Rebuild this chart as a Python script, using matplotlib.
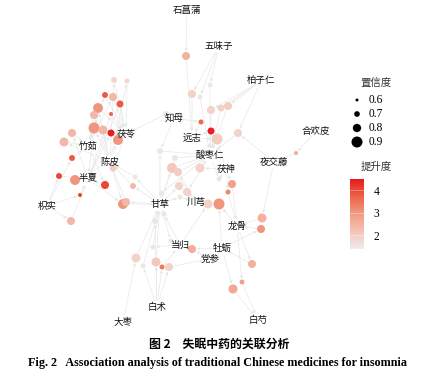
import numpy as np
import matplotlib
matplotlib.use('Agg')
import matplotlib.pyplot as plt
from matplotlib.colors import LinearSegmentedColormap
from matplotlib.patches import FancyArrowPatch

plt.rcParams['font.family'] = ['Noto Sans CJK SC', 'DejaVu Sans']

# Items (drug names) and where their labels sit
item_names = ['石菖蒲', '五味子', '柏子仁', '知母', '茯苓', '远志', '竹茹', '酸枣仁', '合欢皮',
              '夜交藤', '陈皮', '茯神', '半夏', '枳实', '甘草', '川芎', '龙骨', '当归',
              '牡蛎', '党参', '白术', '大枣', '白芍']
item_x = [187, 219, 261, 174, 126, 192, 88, 210, 316, 274, 110, 226, 88, 47, 160, 196, 237, 180, 222, 210, 157, 123, 258]
item_y = [10, 46, 81, 118, 134, 138, 146, 155, 131, 162, 162, 169, 179, 206, 204, 202, 226, 245, 248, 259, 307, 322, 320]

# Rules: layout position, confidence (size), lift (colour), linked items (last one = rhs)
rule_x = [186, 210, 192, 200, 211, 221, 228, 238, 201, 211, 217, 166, 160, 175, 172, 178, 200,
          179, 187, 161, 180, 232, 228, 219, 208, 219, 123, 126, 133, 135, 113, 105, 113, 114,
          127, 120, 98, 94, 111, 94, 103, 111, 118, 72, 64, 72, 59, 75, 80, 105, 71, 164, 155,
          153, 171, 192, 136, 143, 156, 162, 169, 262, 261, 252, 233, 242, 296]
rule_y = [56, 85, 94, 97, 110, 108, 106, 133, 122, 131, 139, 114, 151, 158, 168, 172, 168,
          186, 192, 193, 197, 184, 192, 179, 204, 204, 204, 202, 186, 177, 168, 95, 97, 80,
          81, 104, 108, 115, 114, 128, 130, 133, 140, 133, 142, 158, 176, 180, 195, 185, 221, 214, 221,
          247, 241, 249, 258, 266, 262, 267, 267, 218, 229, 264, 289, 282, 153]
rule_conf = [0.79, 0.675, 0.79, 0.675, 0.79, 0.75, 0.79, 0.79, 0.675, 0.75, 0.90, 0.71, 0.71, 0.71, 0.86, 0.79, 0.825,
             0.79, 0.79, 0.675, 0.675, 0.79, 0.675, 0.675, 0.825, 0.90, 0.86, 0.79, 0.71, 0.675, 0.75, 0.71, 0.79, 0.71,
             0.675, 0.75, 0.86, 0.79, 0.64, 0.90, 0.825, 0.75, 0.86, 0.79, 0.825, 0.71, 0.71, 0.86, 0.64, 0.79, 0.79, 0.675, 0.71,
             0.675, 0.675, 0.79, 0.825, 0.675, 0.825, 0.675, 0.79, 0.825, 0.79, 0.79, 0.825, 0.675, 0.64]
rule_lift = [2.5, 1.5, 1.9, 1.5, 1.9, 1.9, 2.0, 1.9, 3.6, 4.4, 2.0, 1.5, 1.5, 1.5, 2.1, 2.0, 1.9,
             1.9, 1.9, 1.5, 1.5, 2.8, 3.2, 1.5, 1.9, 3.0, 3.0, 2.4, 2.4, 1.5, 2.0, 3.8, 2.4, 1.9,
             1.8, 3.8, 3.0, 2.4, 3.6, 3.0, 2.4, 4.4, 3.0, 2.4, 2.4, 3.8, 4.0, 3.0, 4.0, 4.0, 2.4, 1.5, 1.5,
             1.5, 1.5, 2.6, 1.9, 1.5, 2.1, 3.4, 1.9, 2.5, 3.0, 2.5, 2.7, 2.8, 2.6]
rule_items = [
    '石菖蒲,远志', '五味子,酸枣仁', '五味子,远志', '五味子,酸枣仁', '柏子仁,酸枣仁', '柏子仁,酸枣仁',
    '柏子仁,酸枣仁', '柏子仁,夜交藤,酸枣仁', '知母,远志', '远志,酸枣仁', '远志,茯神,酸枣仁',
    '知母,茯苓', '知母,甘草,酸枣仁', '甘草,酸枣仁', '甘草,川芎,酸枣仁', '川芎,酸枣仁', '茯神,酸枣仁',
    '甘草,川芎', '酸枣仁,川芎', '酸枣仁,甘草', '甘草,川芎', '茯神,龙骨', '茯神,龙骨', '酸枣仁,茯神',
    '当归,川芎', '龙骨,牡蛎,川芎', '半夏,陈皮,甘草', '甘草,陈皮', '甘草,陈皮', '甘草,陈皮', '茯苓,陈皮',
    '竹茹,茯苓', '竹茹,茯苓', '陈皮,茯苓', '陈皮,茯苓', '半夏,茯苓', '竹茹,陈皮,茯苓', '陈皮,竹茹',
    '半夏,茯苓', '竹茹,陈皮,半夏', '陈皮,茯苓', '半夏,茯苓', '陈皮,茯苓', '半夏,竹茹', '陈皮,竹茹',
    '枳实,竹茹', '枳实,半夏', '陈皮,半夏', '枳实,半夏', '竹茹,半夏', '枳实,半夏', '当归,甘草', '白术,甘草',
    '当归,甘草', '甘草,当归', '党参,牡蛎,当归', '大枣,甘草', '白术,甘草', '白术,甘草', '白术,当归',
    '白术,党参', '夜交藤,龙骨', '牡蛎,龙骨', '龙骨,牡蛎', '牡蛎,白芍', '龙骨,白芍', '合欢皮,夜交藤']

lift_min, lift_max = 1.38, 4.5
legend_conf = [0.6, 0.7, 0.8, 0.9]
cbar_ticks = [2, 3, 4]

cmap = LinearSegmentedColormap.from_list('lift', ['#eeeceb', '#f5c4b6', '#f09a82', '#eb6248', '#e8141a'])


def radius_px(c):
    return 1.5 + (np.asarray(c) - 0.6) / 0.3 * 4.0


def marker_area(c):
    return (2 * radius_px(c) * 0.72) ** 2


fig = plt.figure(figsize=(4.29, 3.80), dpi=100)
ax = fig.add_axes([0, 0, 1, 1])
ax.set_xlim(0, 429)
ax.set_ylim(380, 0)
ax.axis('off')

pos = {n: (x, y) for n, x, y in zip(item_names, item_x, item_y)}
edge_col = '#e8e8e8'

# edges: lhs -> rule -> rhs
for rx, ry, c, its in zip(rule_x, rule_y, rule_conf, rule_items):
    names = its.split(',')
    rp = radius_px(c) * 0.72
    for n in names[:-1]:
        a = FancyArrowPatch(pos[n], (rx, ry), arrowstyle='-|>', mutation_scale=4,
                            color=edge_col, lw=0.5, shrinkA=5, shrinkB=rp + 0.5, zorder=1)
        ax.add_patch(a)
    a = FancyArrowPatch((rx, ry), pos[names[-1]], arrowstyle='-|>', mutation_scale=4,
                        color=edge_col, lw=0.5, shrinkA=rp + 0.5, shrinkB=5, zorder=1)
    ax.add_patch(a)

# rule nodes
ax.scatter(rule_x, rule_y, s=marker_area(rule_conf), c=rule_lift, cmap=cmap,
           vmin=lift_min, vmax=lift_max, linewidths=0, zorder=3)

# item labels
for n, x, y in zip(item_names, item_x, item_y):
    ax.text(x, y, n, fontsize=6.8, ha='center', va='center', color='#111111', zorder=4)

# size legend
ax.text(376, 83, '置信度', fontsize=7.5, ha='center', va='center', color='#333333')
leg_y = [100, 114, 128, 142]
ax.scatter([357] * 4, leg_y, s=marker_area(legend_conf), c='black', linewidths=0)
for v, y in zip(legend_conf, leg_y):
    ax.text(369, y, f'{v:.1f}', fontsize=8.3, va='center', family='Liberation Serif')

# colour legend
ax.text(376, 167, '提升度', fontsize=7.5, ha='center', va='center', color='#333333')
cax = fig.add_axes([350 / 429, 1 - 249 / 380, 14 / 429, 70 / 380])
grad = np.linspace(lift_min, lift_max, 200).reshape(-1, 1)
cax.imshow(grad, aspect='auto', cmap=cmap, vmin=lift_min, vmax=lift_max,
           origin='lower', extent=[0, 1, lift_min, lift_max])
for t in cbar_ticks:
    cax.axhline(t, color='white', lw=0.4, alpha=0.6)
cax.set_xticks([])
cax.yaxis.tick_right()
cax.set_yticks(cbar_ticks)
cax.set_yticklabels([str(t) for t in cbar_ticks], family='Liberation Serif', fontsize=8.3)
cax.tick_params(axis='y', length=0, pad=7)
for s in cax.spines.values():
    s.set_visible(False)

# captions
ax.text(219, 344, '图 2　失眠中药的关联分析', fontsize=8.6, ha='center', va='center', weight='bold')
ax.text(218, 363, 'Fig. 2   Association analysis of traditional Chinese medicines for insomnia',
        fontsize=8.7, ha='center', va='center', weight='bold', family='Liberation Serif')

fig.savefig('out.png', dpi=100)
